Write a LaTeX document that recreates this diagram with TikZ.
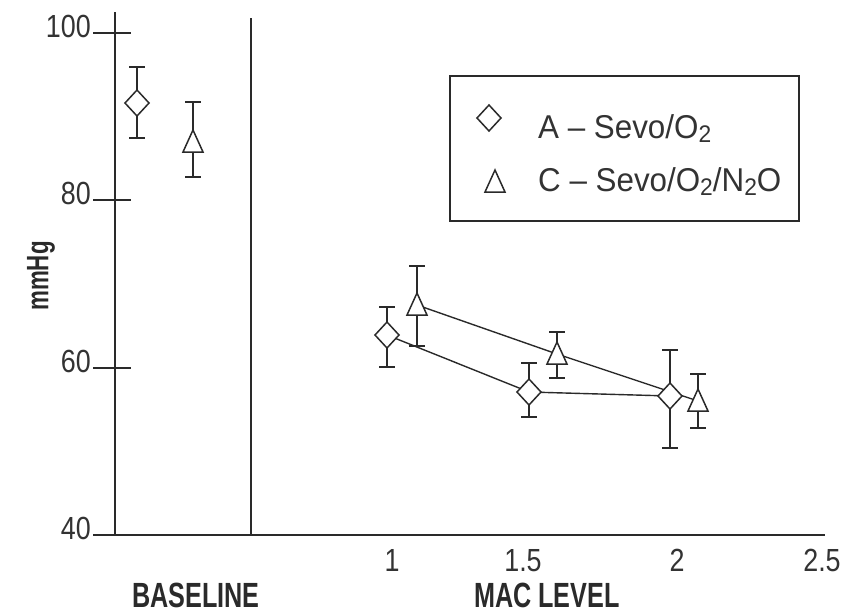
\documentclass[tikz,border=0pt]{standalone}
\usepackage{fontspec}
\setmainfont{Liberation Sans}
\newfontfamily\condfont{Liberation Sans}[FakeStretch=0.84]
\newfontfamily\legfont{Liberation Sans}[FakeStretch=0.95]
\newfontfamily\boldcond{Liberation Sans}[FakeStretch=0.72]
\definecolor{ink}{HTML}{2A2A2A}
\definecolor{txt}{HTML}{333333}
\tikzset{
  axisline/.style={line width=1.5pt, draw=ink},
  ebar/.style={line width=1.7pt, draw=ink},
  ecap/.style={line width=2.6pt, draw=ink},
  dataline/.style={line width=1.4pt, draw=ink},
  markline/.style={line width=1.5pt, draw=ink, fill=white, line join=miter},
  ticklab/.style={font=\condfont\fontsize{32}{34}\selectfont, text=txt, inner sep=0pt},
  leglab/.style={font=\legfont\fontsize{33}{35}\selectfont, text=txt, inner sep=0pt, anchor=base west},
  boldlab/.style={font=\boldcond\bfseries\fontsize{35}{37}\selectfont, text=ink, inner sep=0pt, anchor=base},
  dmd/.pic={\path[markline] (-12,0)--(0,-13)--(12,0)--(0,13)--cycle;},
  tri/.pic={\path[markline] (0,-12)--(10,10)--(-10,10)--cycle;}
}
\newcommand\errbar[3]{%
  \draw[ebar] (#1,#2)--(#1,#3);
  \draw[ecap] ({#1-8},#2)--({#1+8},#2) ({#1-8},#3)--({#1+8},#3);}
\newcommand\subtwo{\raisebox{-0.28ex}{\fontsize{24}{24}\selectfont 2}}
\begin{document}
\begin{tikzpicture}[x=1pt,y=-1pt]
\useasboundingbox (0,0) rectangle (847,614);
% axes
\coordinate (ytop) at (115,12);
\coordinate (orig) at (115,535);
\coordinate (xend) at (825,535);
\coordinate (septop) at (251,18);
\coordinate (sepbot) at (251,535);
\draw[axisline] (ytop) -- (orig) -- (xend);
\draw[axisline] (septop) -- (sepbot);
% y ticks
\foreach \yy/\lab in {33/100,200/80,368/60}{
  \draw[axisline] (93,\yy) -- (131,\yy);
  \node[ticklab, anchor=east] (yl\lab) at (91,\yy-7) {\lab};
}
\draw[axisline] (93,535) -- (115,535);
\node[ticklab, anchor=east] (yl40) at (91,528) {40};
% x tick labels
\node[ticklab, anchor=base] (xl1) at (392,571) {1};
\node[ticklab, anchor=base] (xl15) at (523,571) {1.5};
\node[ticklab, anchor=base] (xl2) at (677,571) {2};
\node[ticklab, anchor=base] (xl25) at (822,571) {2.5};
% axis titles
\node[boldlab] (base) at (196,607) {BASELINE};
\node[boldlab] (mac) at (547,607) {MAC LEVEL};
\node[font=\boldcond\bfseries\fontsize{31}{33}\selectfont, text=ink, inner sep=0pt, rotate=90] (ylab) at (41,276) {mmHg};
% data points
\coordinate (a0) at (137,103);
\coordinate (c0) at (193,142);
\coordinate (a1) at (387,335);
\coordinate (c1) at (417,305);
\coordinate (a15) at (529,392);
\coordinate (c15) at (557,354);
\coordinate (a2) at (670,396);
\coordinate (c2) at (698,401);
% connecting lines
\draw[dataline] (a1) -- (a15) -- (a2);
\draw[dataline] (c1) -- (c15) -- (c2);
% error bars
\errbar{137}{67}{138}
\errbar{193}{102}{177}
\errbar{387}{307}{367}
\errbar{417}{266}{346}
\errbar{529}{363}{417}
\errbar{557}{332}{378}
\errbar{670}{350}{448}
\errbar{698}{374}{428}
% markers
\pic at (a0) {dmd};
\pic at (c0) {tri};
\pic at (a1) {dmd};
\pic at (c1) {tri};
\pic at (a15) {dmd};
\pic at (c15) {tri};
\pic at (a2) {dmd};
\pic at (c2) {tri};
% legend
\draw[axisline] (450,76) rectangle (799,221);
\pic at (489,118) {dmd};
\pic at (495,182) {tri};
\node[leglab] (legA) at (538,138) {A – Sevo/O\subtwo};
\node[leglab] (legC) at (538,191) {C – Sevo/O\subtwo/N\subtwo O};
\end{tikzpicture}
\end{document}
